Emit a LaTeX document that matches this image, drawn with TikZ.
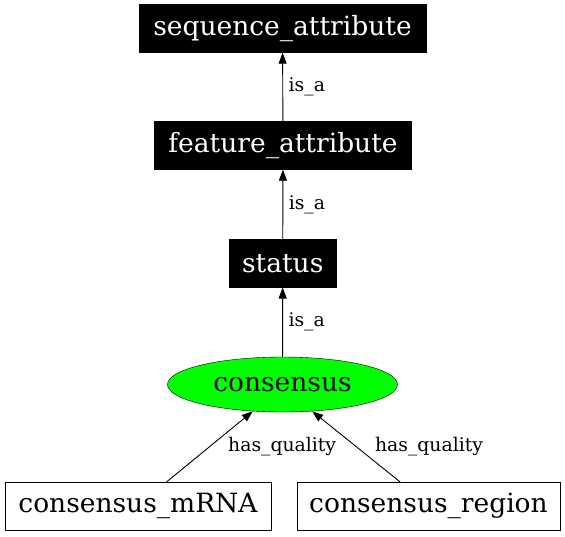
\documentclass[tikz,border=0pt]{standalone}
\usepackage{fontspec}
\setmainfont{DejaVu Serif}
\usetikzlibrary{arrows.meta,shapes.geometric}
\definecolor{limegreen}{RGB}{0,255,0}

\tikzset{
  darkbox/.style={fill=black,draw=black,text=white,inner sep=0pt,
    minimum height=48pt,font=\fontsize{26.5}{30}\selectfont},
  lightbox/.style={fill=white,draw=black,text=black,inner sep=0pt,
    minimum height=48pt,font=\fontsize{26.5}{30}\selectfont},
  qualnode/.style={ellipse,fill=limegreen,draw=black,inner sep=0pt,
    minimum width=230pt,minimum height=55pt,font=\fontsize{26.5}{30}\selectfont},
  rel/.style={-{Triangle[length=11pt,width=8pt]},black,line width=0.9pt},
  rellabel/.style={font=\fontsize{18.8}{21}\selectfont,anchor=west,inner sep=0pt}
}

\begin{document}
\begin{tikzpicture}[x=1pt,y=-1pt]
  \useasboundingbox (0,0) rectangle (565,536);
  % ontology terms
  \node[darkbox,minimum width=287pt] (seqattr) at (282.5,28.5) {sequence\_attribute};
  \node[darkbox,minimum width=257pt] (featattr) at (283,145.5) {feature\_attribute};
  \node[darkbox,minimum width=107pt] (status) at (282.7,263.3) {status};
  \node[qualnode] (cons) at (282.5,384.5) {consensus};
  \node[lightbox,minimum width=266pt] (mrna) at (138,506) {consensus\_mRNA};
  \node[lightbox,minimum width=263pt] (region) at (428.5,506) {consensus\_region};
  % relations
  \draw[rel] (featattr) -- node[rellabel,xshift=5.5pt] {is\_a} (seqattr);
  \draw[rel] (status) -- node[rellabel,xshift=5.5pt] {is\_a} (featattr);
  \draw[rel] (cons) -- node[rellabel,xshift=5.5pt] {is\_a} (status);
  \draw[rel] ([xshift=28.7pt]mrna.north) -- node[rellabel,xshift=18pt] {has\_quality} (cons.222);
  \draw[rel] ([xshift=-28.5pt]region.north) -- node[rellabel,xshift=18.5pt] {has\_quality} (cons.318);
\end{tikzpicture}
\end{document}
